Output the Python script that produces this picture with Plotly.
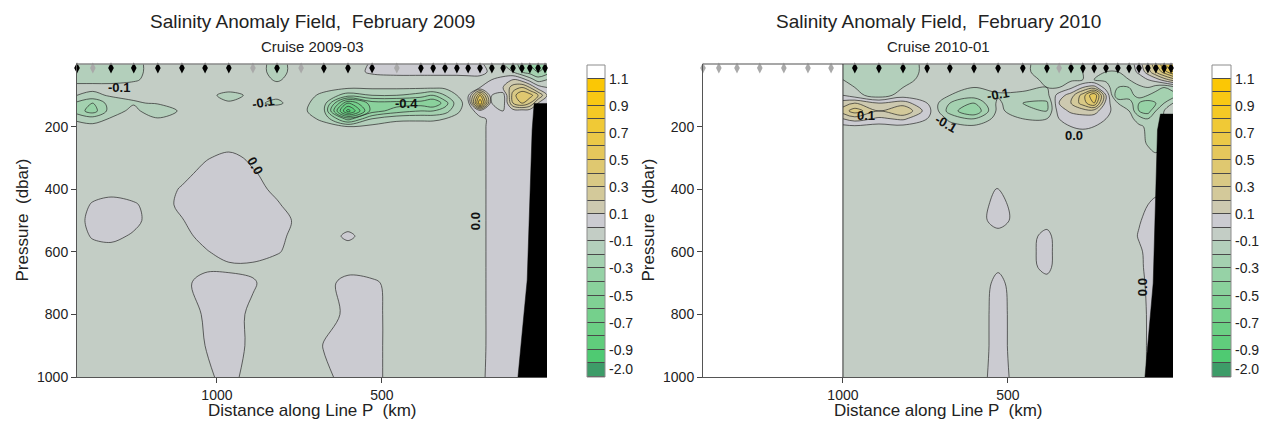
import plotly.graph_objects as go

# ------------------------------------------------------------------ data
depth_dbar = [0, 25, 50, 75, 100, 125, 150, 175, 200, 250, 300, 350, 400,
              450, 500, 550, 600, 650, 700, 800, 900, 1000]

# 2009-03 section: columns = distance along Line P (km), rows = depth_dbar
grid_km_2009 = [1424, 1376, 1321, 1252, 1179, 1106, 1036, 964, 891, 818, 745, 676, 603, 530,
                455, 382, 345, 309, 273, 239, 203, 167, 133, 103, 76, 52, 27, 0]
anom_2009 = [
    [-0.15, -0.15, -0.14, -0.12, -0.07, -0.05, -0.05, -0.05, -0.06, -0.13, -0.06, -0.05, -0.05, 0.01, 0.03, 0.03, 0.03, 0.03, 0.03, 0.03, 0.02, -0.05, -0.10, -0.15, -0.25, -0.30, -0.35, -0.30],
    [-0.14, -0.14, -0.13, -0.12, -0.07, -0.05, -0.05, -0.05, -0.06, -0.13, -0.06, -0.05, -0.05, 0.02, 0.04, 0.04, 0.04, 0.04, 0.04, 0.04, 0.03, -0.02, -0.08, -0.10, -0.20, -0.25, -0.30, -0.25],
    [-0.12, -0.12, -0.12, -0.11, -0.07, -0.05, -0.05, -0.05, -0.06, -0.11, -0.06, -0.05, -0.05, -0.05, -0.05, -0.05, -0.05, -0.05, -0.05, -0.04, -0.03, 0.00, 0.05, 0.10, 0.05, -0.05, -0.15, -0.10],
    [-0.08, -0.08, -0.08, -0.07, -0.06, -0.05, -0.05, -0.06, -0.06, -0.07, -0.06, -0.07, -0.08, -0.08, -0.08, -0.08, -0.08, -0.08, -0.06, -0.02, 0.00, 0.05, 0.10, 0.25, 0.30, 0.20, 0.05, 0.00],
    [-0.10, -0.12, -0.09, -0.08, -0.07, -0.06, -0.07, -0.13, -0.08, -0.09, -0.06, -0.12, -0.25, -0.20, -0.20, -0.25, -0.30, -0.20, -0.10, -0.02, 0.50, 0.00, -0.05, 0.35, 0.50, 0.45, 0.30, 0.10],
    [-0.22, -0.30, -0.15, -0.11, -0.09, -0.07, -0.07, -0.09, -0.09, -0.11, -0.07, -0.15, -0.70, -0.45, -0.45, -0.45, -0.50, -0.35, -0.15, -0.05, 0.70, 0.00, -0.05, 0.30, 0.40, 0.30, 0.10, 0.05],
    [-0.25, -0.35, -0.15, -0.07, -0.18, -0.08, -0.06, -0.06, -0.06, -0.07, -0.07, -0.18, -0.95, -0.45, -0.35, -0.30, -0.30, -0.25, -0.12, -0.05, 0.05, 0.00, 0.00, 0.05, 0.05, 0.05, 0.05, 0.05],
    [-0.12, -0.15, -0.09, -0.06, -0.09, -0.06, -0.05, -0.05, -0.05, -0.05, -0.06, -0.12, -0.45, -0.20, -0.12, -0.12, -0.12, -0.10, -0.07, -0.05, -0.02, 0.02, 0.03, 0.04, 0.05, 0.05, 0.05, 0.05],
    [-0.06, -0.07, -0.06, -0.05, -0.05, -0.05, -0.05, -0.05, -0.05, -0.05, -0.05, -0.07, -0.10, -0.07, -0.06, -0.05, -0.05, -0.05, -0.05, -0.05, -0.03, 0.03, 0.04, 0.04, 0.05, 0.05, 0.05, 0.05],
    [-0.05, -0.05, -0.05, -0.05, -0.05, -0.05, -0.05, -0.05, -0.05, -0.05, -0.05, -0.05, -0.05, -0.05, -0.05, -0.05, -0.05, -0.05, -0.05, -0.05, -0.03, 0.03, 0.04, 0.04, 0.05, 0.05, 0.05, 0.05],
    [-0.05, -0.05, -0.05, -0.05, -0.05, -0.05, -0.01, 0.03, -0.02, -0.05, -0.05, -0.05, -0.05, -0.05, -0.05, -0.05, -0.05, -0.05, -0.05, -0.05, -0.03, 0.03, 0.04, 0.04, 0.05, 0.05, 0.05, 0.05],
    [-0.05, -0.05, -0.05, -0.05, -0.05, -0.03, 0.03, 0.04, 0.01, -0.04, -0.05, -0.05, -0.05, -0.05, -0.05, -0.05, -0.05, -0.05, -0.05, -0.05, -0.03, 0.03, 0.04, 0.04, 0.05, 0.05, 0.05, 0.05],
    [-0.05, -0.04, -0.03, -0.04, -0.05, 0.01, 0.04, 0.05, 0.03, -0.02, -0.05, -0.05, -0.05, -0.05, -0.05, -0.05, -0.05, -0.05, -0.05, -0.05, -0.03, 0.03, 0.04, 0.04, 0.05, 0.05, 0.05, 0.05],
    [-0.04, 0.01, 0.03, 0.01, -0.04, 0.02, 0.05, 0.05, 0.04, 0.01, -0.05, -0.05, -0.05, -0.05, -0.05, -0.05, -0.05, -0.05, -0.05, -0.05, -0.03, 0.03, 0.04, 0.04, 0.05, 0.05, 0.05, 0.05],
    [-0.03, 0.03, 0.04, 0.02, -0.04, -0.005, 0.05, 0.05, 0.05, 0.03, -0.02, -0.05, -0.05, -0.05, -0.05, -0.05, -0.05, -0.05, -0.05, -0.05, -0.03, 0.03, 0.04, 0.04, 0.05, 0.05, 0.05, 0.05],
    [-0.04, 0.01, 0.02, -0.01, -0.05, -0.03, 0.03, 0.05, 0.05, 0.02, -0.03, -0.05, 0.02, -0.05, -0.05, -0.05, -0.05, -0.05, -0.05, -0.05, -0.03, 0.03, 0.04, 0.04, 0.05, 0.05, 0.05, 0.05],
    [-0.05, -0.04, -0.03, -0.05, -0.05, -0.05, -0.01, 0.04, 0.04, 0.01, -0.05, -0.05, -0.05, -0.05, -0.05, -0.05, -0.05, -0.05, -0.05, -0.05, -0.03, 0.03, 0.04, 0.04, 0.05, 0.05, 0.05, 0.05],
    [-0.05, -0.05, -0.05, -0.05, -0.05, -0.05, -0.02, -0.02, -0.02, -0.05, -0.05, -0.05, -0.03, -0.05, -0.05, -0.05, -0.05, -0.05, -0.05, -0.05, -0.03, 0.03, 0.04, 0.04, 0.05, 0.05, 0.05, 0.05],
    [-0.05, -0.05, -0.05, -0.05, -0.05, -0.03, 0.04, 0.04, 0.01, -0.05, -0.05, -0.03, 0.03, 0.02, -0.04, -0.05, -0.05, -0.05, -0.05, -0.05, -0.03, 0.03, 0.04, 0.04, 0.05, 0.05, 0.05, 0.05],
    [-0.05, -0.05, -0.05, -0.05, -0.05, -0.05, 0.01, 0.04, -0.02, -0.05, -0.05, -0.04, 0.02, 0.03, -0.04, -0.05, -0.05, -0.05, -0.05, -0.05, -0.03, 0.03, 0.04, 0.04, 0.05, 0.05, 0.05, 0.05],
    [-0.05, -0.05, -0.05, -0.05, -0.05, -0.05, 0.00, 0.04, -0.02, -0.05, -0.05, 0.005, 0.03, 0.03, -0.04, -0.05, -0.05, -0.05, -0.05, -0.05, -0.03, 0.03, 0.04, 0.04, 0.05, 0.05, 0.05, 0.05],
    [-0.05, -0.05, -0.05, -0.05, -0.05, -0.05, -0.02, 0.03, -0.04, -0.05, -0.05, -0.02, 0.03, 0.03, -0.04, -0.05, -0.05, -0.05, -0.05, -0.05, -0.03, 0.04, 0.04, 0.04, 0.05, 0.05, 0.05, 0.05],
]

# 2010-01 section (no data offshore of 1000 km)
grid_km_2010 = [1000, 964, 891, 818, 745, 676, 603, 530, 455, 382, 345, 309, 273, 239, 203,
                167, 133, 103, 76, 52, 27, 0]
anom_2010 = [
    [-0.12, -0.12, -0.12, -0.12, -0.09, -0.05, -0.05, -0.05, -0.09, -0.12, -0.12, -0.12, -0.10, -0.08, -0.10, -0.10, -0.05, 0.05, 0.20, 0.40, 0.60, 0.80],
    [-0.11, -0.12, -0.12, -0.12, -0.09, -0.05, -0.05, -0.05, -0.09, -0.12, -0.12, -0.12, -0.10, -0.08, -0.10, -0.10, -0.05, 0.02, 0.15, 0.30, 0.45, 0.60],
    [-0.10, -0.11, -0.11, -0.11, -0.09, -0.06, -0.06, -0.06, -0.08, -0.11, -0.12, -0.12, -0.10, -0.10, -0.12, -0.15, -0.10, -0.05, 0.00, 0.05, 0.15, 0.25],
    [-0.06, -0.10, -0.12, -0.10, -0.08, -0.08, -0.10, -0.08, -0.08, -0.10, -0.10, -0.02, 0.10, 0.15, -0.05, -0.20, -0.20, -0.12, -0.10, -0.15, -0.20, -0.15],
    [0.00, -0.06, -0.16, -0.05, -0.06, -0.10, -0.15, -0.11, -0.12, -0.13, 0.05, 0.15, 0.35, 0.60, 0.10, -0.30, -0.25, -0.15, -0.20, -0.25, -0.30, -0.25],
    [0.15, 0.20, 0.10, 0.15, 0.00, -0.20, -0.30, -0.08, -0.20, -0.22, 0.10, 0.20, 0.35, 0.50, 0.05, -0.10, -0.15, -0.30, -0.35, -0.30, -0.20, -0.10],
    [0.25, 0.35, 0.20, 0.30, 0.05, -0.25, -0.40, -0.07, -0.18, -0.20, 0.05, 0.12, 0.15, 0.15, 0.02, -0.03, -0.10, -0.30, -0.35, -0.20, -0.10, -0.10],
    [0.10, 0.15, 0.08, 0.12, 0.00, -0.12, -0.20, -0.06, -0.10, -0.10, 0.00, 0.04, 0.05, 0.04, 0.00, -0.03, -0.06, -0.15, -0.20, -0.15, -0.10, -0.10],
    [-0.03, -0.02, -0.04, -0.03, -0.05, -0.07, -0.08, -0.06, -0.06, -0.06, -0.04, 0.00, 0.01, 0.00, -0.03, -0.04, -0.05, -0.08, -0.12, -0.12, -0.10, -0.10],
    [-0.05, -0.05, -0.05, -0.05, -0.05, -0.05, -0.05, -0.05, -0.05, -0.05, -0.05, -0.05, -0.05, -0.05, -0.05, -0.05, -0.05, -0.07, -0.11, -0.12, -0.10, -0.10],
    [-0.05, -0.05, -0.05, -0.05, -0.05, -0.05, -0.05, -0.05, -0.05, -0.05, -0.05, -0.05, -0.05, -0.05, -0.05, -0.05, -0.05, -0.05, -0.07, -0.09, -0.08, -0.08],
    [-0.05, -0.05, -0.05, -0.05, -0.05, -0.05, -0.05, -0.05, -0.05, -0.05, -0.05, -0.05, -0.05, -0.05, -0.05, -0.05, -0.05, -0.05, -0.05, -0.05, -0.05, -0.05],
    [-0.05, -0.05, -0.05, -0.05, -0.05, -0.05, -0.05, 0.005, -0.05, -0.05, -0.05, -0.05, -0.05, -0.05, -0.05, -0.05, -0.05, -0.05, -0.03, -0.02, -0.02, -0.02],
    [-0.05, -0.05, -0.05, -0.05, -0.05, -0.05, -0.05, 0.03, -0.05, -0.05, -0.05, -0.05, -0.05, -0.05, -0.05, -0.05, -0.05, -0.03, 0.00, 0.02, 0.02, 0.02],
    [-0.05, -0.05, -0.05, -0.05, -0.05, -0.05, -0.05, 0.04, -0.05, -0.04, -0.05, -0.05, -0.05, -0.05, -0.05, -0.05, -0.05, -0.01, 0.03, 0.04, 0.04, 0.04],
    [-0.05, -0.05, -0.05, -0.05, -0.05, -0.05, -0.05, -0.04, -0.05, 0.03, -0.05, -0.05, -0.05, -0.05, -0.05, -0.05, -0.05, 0.01, 0.03, 0.04, 0.04, 0.04],
    [-0.05, -0.05, -0.05, -0.05, -0.05, -0.05, -0.05, -0.05, -0.05, 0.04, -0.05, -0.05, -0.05, -0.05, -0.05, -0.05, -0.05, -0.02, 0.03, 0.04, 0.04, 0.04],
    [-0.05, -0.05, -0.05, -0.05, -0.05, -0.05, -0.05, -0.01, -0.05, 0.03, -0.05, -0.05, -0.05, -0.05, -0.05, -0.05, -0.05, -0.03, 0.03, 0.04, 0.04, 0.04],
    [-0.05, -0.05, -0.05, -0.05, -0.05, -0.05, -0.05, 0.02, -0.05, -0.04, -0.05, -0.05, -0.05, -0.05, -0.05, -0.05, -0.05, -0.04, 0.02, 0.04, 0.04, 0.04],
    [-0.05, -0.05, -0.05, -0.05, -0.05, -0.05, -0.05, 0.03, -0.05, -0.05, -0.05, -0.05, -0.05, -0.05, -0.05, -0.05, -0.05, -0.05, 0.01, 0.03, 0.03, 0.03],
    [-0.05, -0.05, -0.05, -0.05, -0.05, -0.05, -0.05, 0.03, -0.05, -0.05, -0.05, -0.05, -0.05, -0.05, -0.05, -0.05, -0.05, -0.05, 0.01, 0.03, 0.03, 0.03],
    [-0.05, -0.05, -0.05, -0.05, -0.05, -0.05, -0.05, 0.04, -0.05, -0.05, -0.05, -0.05, -0.05, -0.05, -0.05, -0.05, -0.05, -0.05, 0.01, 0.03, 0.03, 0.03],
]

# stations along the top (1 = sampled, 0 = not sampled)
station_km = [1424, 1376, 1321, 1252, 1179, 1106, 1036, 964, 891, 818, 745, 676, 603, 530,
              455, 382, 345, 309, 273, 239, 203, 167, 133, 103, 76, 52, 27, 6]
sampled_2009 = [1, 0, 1, 1, 1, 1, 1, 1, 0, 1, 0, 1, 1, 1, 0, 1, 1, 1, 1, 1, 1, 1, 1, 1, 1, 1, 1, 1]
sampled_2010 = [0, 0, 0, 0, 0, 0, 0, 1, 1, 1, 1, 1, 1, 1, 1, 1, 0, 1, 1, 1, 1, 1, 1, 1, 1, 1, 1, 1]

# sea floor (black mask)
bathy_2009_km = [88, 60, 45, 39, 0, 0]
bathy_2009_dbar = [1000, 690, 211, 126, 126, 1000]
bathy_2010_km = [85, 60, 47, 38, 0, 0]
bathy_2010_dbar = [1000, 700, 211, 160, 160, 1000]

data_edge_2010_km = 1000

# contour levels and colours: band 0 = below -1.0 (to -2.0), band k = [-1.0+0.1(k-1), ...]
level_start, level_end, level_step = -1.0, 1.1, 0.1
band_colors = ["#3d9c68", "#4fca72", "#60cd7c", "#6bcf84", "#75d08c", "#80d194", "#8ad19c",
               "#96d2a6", "#a4d1b0", "#b3cfbb", "#c3cdc5", "#cbcbd1", "#cdc9b0", "#d3c99a",
               "#d9c985", "#dfc870", "#e5c75c", "#ebc848", "#f0c936", "#f4c925", "#f8c814",
               "#fbc705"]
above_color = "#ffffff"
cbar_tick_values = [-0.9, -0.7, -0.5, -0.3, -0.1, 0.1, 0.3, 0.5, 0.7, 0.9, 1.1]
cbar_tick_text = ["-0.9", "-0.7", "-0.5", "-0.3", "-0.1", "0.1", "0.3", "0.5", "0.7", "0.9", "1.1"]
cbar_floor_label = "-2.0"

pressure_ticks = [200, 400, 600, 800, 1000]
distance_ticks = [1000, 500]

labels_2009 = [("-0.1", 1297, 75, 0), ("-0.1", 860, 124, -10), ("-0.4", 425, 126, 0),
               ("0.0", 885, 325, 60), ("0.0", 218, 502, -90)]
labels_2010 = [("-0.1", 530, 99, -10), ("0.1", 930, 166, 0), ("-0.1", 688, 189, 30),
               ("0.0", 300, 227, 0), ("0.0", 90, 712, -90)]

titles = ["Salinity Anomaly Field,  February 2009", "Salinity Anomaly Field,  February 2010"]
subtitles = ["Cruise 2009-03", "Cruise 2010-01"]
x_title = "Distance along Line P  (km)"
y_title = "Pressure  (dbar)"

# ------------------------------------------------------------------ layout geometry (px)
W, H = 1267, 429
FONT = "Liberation Sans, Arial, sans-serif"
plot_top, plot_bottom = 64, 377
panels = [dict(x0=77, x1=547, cb0=587, cb1=605, ytitle_x=22),
          dict(x0=703, x1=1173, cb0=1212, cb1=1231, ytitle_x=648)]
km_range = [1424, 0]


def fx(px):
    return px / W


def fy(py):
    return 1 - py / H


# plotly evaluates each filled band at colour-scale position k / n_bands
box_colors = band_colors + [above_color]
n_bands = len(band_colors)
contour_scale = []
for k, c in enumerate(box_colors):
    lo = max(0.0, (k - 0.5) / n_bands)
    hi = min(1.0, (k + 0.5) / n_bands)
    contour_scale += [[lo, c], [hi, c]]

n_boxes = len(box_colors)
box_scale = []
for k, c in enumerate(box_colors):
    box_scale += [[k / n_boxes, c], [(k + 1) / n_boxes, c]]

fig = go.Figure()

sections = [(grid_km_2009, anom_2009, bathy_2009_km, bathy_2009_dbar, sampled_2009),
            (grid_km_2010, anom_2010, bathy_2010_km, bathy_2010_dbar, sampled_2010)]

px_per_dbar = (plot_bottom - plot_top) / 1000.0
marker_depth = 4 / px_per_dbar

for i, (gx, gz, bx, by, samp) in enumerate(sections):
    xa = "x" if i == 0 else "x%d" % (2 * i + 1)
    ya = "y" if i == 0 else "y%d" % (2 * i + 1)
    fig.add_trace(go.Contour(
        x=gx, y=depth_dbar, z=gz, xaxis=xa, yaxis=ya,
        autocontour=False,
        contours=dict(start=level_start, end=level_end, size=level_step,
                      coloring="fill", showlines=True),
        line=dict(color="#2a2a2a", width=0.7, smoothing=1.0),
        colorscale=contour_scale, showscale=False, hoverinfo="skip"))
    fig.add_trace(go.Scatter(
        x=bx, y=by, xaxis=xa, yaxis=ya, mode="lines", fill="toself",
        fillcolor="#000000", line=dict(color="#000000", width=0.5), hoverinfo="skip"))
    fig.add_trace(go.Scatter(
        x=station_km, y=[marker_depth] * len(station_km), xaxis=xa, yaxis=ya,
        mode="markers", cliponaxis=False, hoverinfo="skip",
        marker=dict(symbol="diamond-tall", size=8,
                    color=["#000000" if s else "#a9a9a9" for s in samp],
                    line=dict(width=0))))

    # colour bar as a stack of boxes
    cxa = "x%d" % (2 * i + 2)
    cya = "y%d" % (2 * i + 2)
    fig.add_trace(go.Heatmap(
        x=[0], y=[k + 0.5 for k in range(n_boxes)], z=[[k] for k in range(n_boxes)],
        xaxis=cxa, yaxis=cya, colorscale=box_scale, zmin=-0.5, zmax=n_boxes - 0.5,
        showscale=False, ygap=1, hoverinfo="skip"))

layout = dict(
    width=W, height=H, margin=dict(l=0, r=0, t=0, b=0), autosize=False,
    template="none", paper_bgcolor="white", plot_bgcolor="white",
    showlegend=False, hovermode=False,
    font=dict(family=FONT, color="#222222"),
)

annotations = []
shapes = []
tickpos = [(v - level_start) / level_step + 1 for v in cbar_tick_values] + [0.6]
ticktxt = cbar_tick_text + [cbar_floor_label]
for i, p in enumerate(panels):
    sfx = "" if i == 0 else str(2 * i + 1)
    csfx = str(2 * i + 2)
    xdom = [fx(p["x0"]), fx(p["x1"])]
    ydom = [fy(plot_bottom), fy(plot_top)]
    layout["xaxis" + sfx] = dict(
        domain=xdom, range=km_range, anchor="y" + sfx, tickvals=distance_ticks,
        ticks="outside", ticklen=5, tickwidth=1, tickcolor="#444",
        showline=True, linecolor="#555", linewidth=1, showgrid=False, zeroline=False,
        tickfont=dict(size=14, family=FONT, color="#222"))
    layout["yaxis" + sfx] = dict(
        domain=ydom, range=[1000, 0], anchor="x" + sfx, tickvals=pressure_ticks,
        ticks="outside", ticklen=5, tickwidth=1, tickcolor="#444",
        showline=True, linecolor="#555", linewidth=1, showgrid=False, zeroline=False,
        tickfont=dict(size=14, family=FONT, color="#222"))
    layout["xaxis" + csfx] = dict(
        domain=[fx(p["cb0"]), fx(p["cb1"])], range=[-0.5, 0.5], anchor="y" + csfx,
        visible=False)
    layout["yaxis" + csfx] = dict(
        domain=[fy(plot_bottom), fy(plot_top + 1)], range=[0, n_boxes], anchor="x" + csfx,
        visible=False)

    for tp, tt in zip(tickpos, ticktxt):
        annotations.append(dict(text=tt, x=fx(p["cb1"] + 2), y=tp, xref="paper",
                                yref="y" + csfx, xanchor="left", yanchor="middle",
                                showarrow=False,
                                font=dict(size=14, family=FONT, color="#222")))

    xref_dom = ("x" + sfx) + " domain"
    yref_dom = ("y" + sfx) + " domain"
    # grey frame line along the sea surface
    shapes.append(dict(type="line", xref=xref_dom, yref=yref_dom, x0=0, x1=1, y0=1, y1=1,
                       line=dict(color="#8a8a8a", width=1.5)))
    # colour bar background (separators) and frame
    shapes.append(dict(type="rect", xref="x%s domain" % csfx, yref="y%s domain" % csfx,
                       x0=0, x1=1, y0=0, y1=1, fillcolor="#4a4a4a",
                       line=dict(width=0), layer="below"))
    shapes.append(dict(type="rect", xref="x%s domain" % csfx, yref="y%s domain" % csfx,
                       x0=0, x1=1, y0=0, y1=1, line=dict(color="#8c8c8c", width=1)))

    cx = (p["x0"] + p["x1"]) / 2
    annotations.append(dict(text=titles[i], x=fx(cx), y=fy(21), xref="paper", yref="paper",
                            showarrow=False, xanchor="center", yanchor="middle",
                            font=dict(size=19, family=FONT, color="#222")))
    annotations.append(dict(text=subtitles[i], x=fx(cx), y=fy(46), xref="paper", yref="paper",
                            showarrow=False, xanchor="center", yanchor="middle",
                            font=dict(size=15, family=FONT, color="#222")))
    annotations.append(dict(text=x_title, x=fx(cx), y=fy(410), xref="paper", yref="paper",
                            showarrow=False, xanchor="center", yanchor="middle",
                            font=dict(size=17, family=FONT, color="#222")))
    annotations.append(dict(text=y_title, x=fx(p["ytitle_x"]),
                            y=fy((plot_top + plot_bottom) / 2), xref="paper", yref="paper",
                            showarrow=False, textangle=-90, xanchor="center", yanchor="middle",
                            font=dict(size=17, family=FONT, color="#222")))

# edge of the 2010 data coverage
shapes.append(dict(type="line", xref="x3", yref="y3 domain", x0=data_edge_2010_km,
                   x1=data_edge_2010_km, y0=0, y1=1, line=dict(color="#333", width=1)))

for i, labs in enumerate([labels_2009, labels_2010]):
    sfx = "" if i == 0 else str(2 * i + 1)
    for text, km, dbar, ang in labs:
        annotations.append(dict(text="<b>%s</b>" % text, x=km, y=dbar, xref="x" + sfx,
                                yref="y" + sfx, showarrow=False, textangle=ang,
                                font=dict(size=13, family=FONT, color="#111")))

layout["annotations"] = annotations
layout["shapes"] = shapes
fig.update_layout(**layout)

fig.write_html("out.html",
               config={"displayModeBar": False, "staticPlot": True},
               post_script="document.body.style.margin='0px';"
                           "document.body.style.overflow='hidden';")
